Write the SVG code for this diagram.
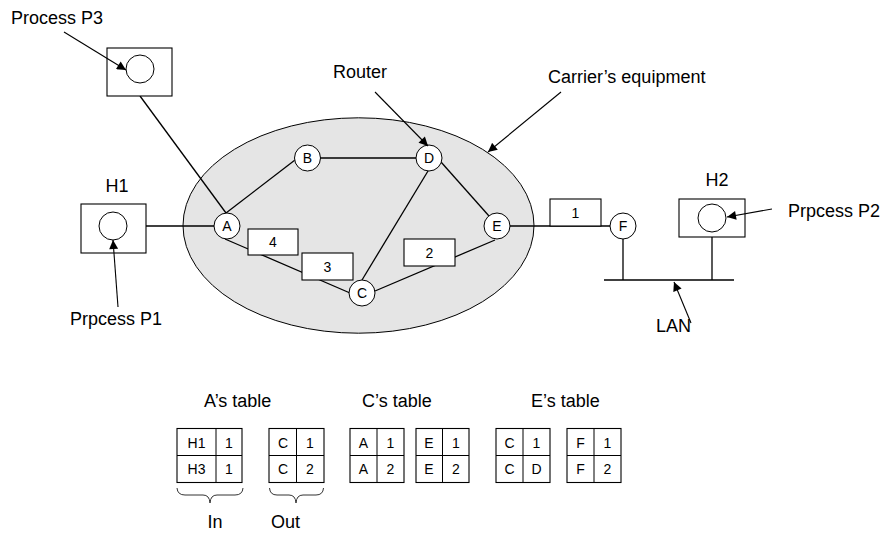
<svg xmlns="http://www.w3.org/2000/svg" width="887" height="536" viewBox="0 0 887 536">
<style>
text{font-family:"Liberation Sans",Arial,sans-serif;fill:#000}
.lbl{font-size:18px}
.sm{font-size:14px;text-anchor:middle}
.ln{stroke:#000;stroke-width:1.3;fill:none}
.tl{stroke:#000;stroke-width:1;fill:none}
.ar{stroke:#000;stroke-width:1.1;fill:none;marker-end:url(#ah)}
.nd{fill:#fff;stroke:#000;stroke-width:1}
.bx{fill:#fff;stroke:#000;stroke-width:1.1}
.br{stroke:#333;stroke-width:1;fill:none}
</style>
<defs>
<marker id="ah" viewBox="0 0 10 10" refX="10" refY="5" markerWidth="10" markerHeight="9" markerUnits="userSpaceOnUse" orient="auto">
<path d="M0,0 L10,5 L0,10 z" fill="#000"/>
</marker>
</defs>
<g id="carrier">
<ellipse cx="358.5" cy="225.5" rx="175.5" ry="107.7" fill="#e5e5e5" stroke="#000" stroke-width="1"/>
</g>
<g id="connectors">
<line class="ln" x1="140" y1="96" x2="226" y2="213"/>
<line class="ln" x1="146" y1="226" x2="214" y2="226"/>
<line class="ln" x1="226" y1="213" x2="295" y2="160"/>
<line class="ln" x1="320" y1="158" x2="416" y2="158"/>
<line class="ln" x1="441" y1="162" x2="489" y2="216"/>
<line class="ln" x1="428" y1="171" x2="362" y2="280"/>
<line class="ln" x1="225" y1="239" x2="350" y2="293"/>
<line class="ln" x1="375" y1="291" x2="495" y2="240"/>
<line class="ln" x1="510" y1="226" x2="610" y2="226"/>
<line class="ln" x1="623" y1="239" x2="623" y2="280"/>
<line class="ln" x1="712" y1="237" x2="712" y2="280"/>
<line class="ln" x1="604" y1="280" x2="734" y2="280"/>
</g>
<g id="P3"><rect class="bx" x="107" y="48" width="65" height="48"/><circle class="nd" cx="140" cy="69" r="14"/></g>
<g id="H1"><rect class="bx" x="81" y="204" width="65" height="49"/><circle class="nd" cx="113" cy="226" r="14"/><text class="lbl" x="117" y="192" text-anchor="middle">H1</text></g>
<g id="H2"><rect class="bx" x="679" y="199" width="66" height="38"/><circle class="nd" cx="712" cy="218" r="14"/><text class="lbl" x="717" y="186" text-anchor="middle">H2</text></g>
<g id="A"><circle class="nd" cx="227" cy="226" r="13"/><text class="sm" x="227" y="231">A</text></g>
<g id="B"><circle class="nd" cx="307.5" cy="158" r="13"/><text class="sm" x="307.5" y="163">B</text></g>
<g id="D"><circle class="nd" cx="429" cy="158" r="13"/><text class="sm" x="429" y="163">D</text></g>
<g id="E"><circle class="nd" cx="497" cy="226" r="13"/><text class="sm" x="497" y="231">E</text></g>
<g id="C"><circle class="nd" cx="362" cy="293" r="13"/><text class="sm" x="362" y="298">C</text></g>
<g id="F"><circle class="nd" cx="623" cy="226" r="13"/><text class="sm" x="623" y="231">F</text></g>
<g id="pkt4"><rect class="bx" x="248" y="229" width="50" height="26"/><text class="sm" x="273" y="247">4</text></g>
<g id="pkt3"><rect class="bx" x="302" y="253" width="51" height="27"/><text class="sm" x="327.5" y="271.5">3</text></g>
<g id="pkt2"><rect class="bx" x="404" y="239" width="51" height="27"/><text class="sm" x="429.5" y="257.5">2</text></g>
<g id="pkt1"><rect class="bx" x="550" y="199" width="51" height="27"/><text class="sm" x="575.5" y="217.5">1</text></g>
<g id="pointers">
<line class="ar" x1="64" y1="32" x2="126" y2="70"/>
<line class="ar" x1="375" y1="92" x2="428" y2="146"/>
<line class="ar" x1="561" y1="92" x2="488" y2="152"/>
<line class="ar" x1="772" y1="209" x2="727" y2="217"/>
<line class="ar" x1="118" y1="307" x2="113" y2="240"/>
<line class="ar" x1="691" y1="323" x2="674" y2="282"/>
</g>
<g id="labels">
<text class="lbl" x="11" y="24">Process P3</text>
<text class="lbl" x="333" y="78">Router</text>
<text class="lbl" x="548" y="83">Carrier’s equipment</text>
<text class="lbl" x="788" y="217">Prpcess P2</text>
<text class="lbl" x="70" y="325">Prpcess P1</text>
<text class="lbl" x="656" y="332">LAN</text>
<text class="lbl" x="204" y="407">A’s table</text>
<text class="lbl" x="362" y="407">C’s table</text>
<text class="lbl" x="531" y="407">E’s table</text>
<text class="lbl" x="207.5" y="528">In</text>
<text class="lbl" x="271" y="528">Out</text>
</g>
<g id="tableA">
<rect class="bx" x="177" y="428.5" width="65" height="54"/><line class="tl" x1="216" y1="428.5" x2="216" y2="482.5"/><line class="tl" x1="177" y1="455.5" x2="242" y2="455.5"/>
<text class="sm" x="196.5" y="448">H1</text><text class="sm" x="229" y="448">1</text><text class="sm" x="196.5" y="474">H3</text><text class="sm" x="229" y="474">1</text>
<rect class="bx" x="269" y="428.5" width="55" height="54"/><line class="tl" x1="296.5" y1="428.5" x2="296.5" y2="482.5"/><line class="tl" x1="269" y1="455.5" x2="324" y2="455.5"/>
<text class="sm" x="283" y="448">C</text><text class="sm" x="310" y="448">1</text><text class="sm" x="283" y="474">C</text><text class="sm" x="310" y="474">2</text>
<path class="br" d="M177,488 Q177.5,495 185,495 L203,495 Q209.5,495 210,503 Q210.5,495 217,495 L235,495 Q242.5,495 243,488"/>
<path class="br" d="M269.5,488 Q270,495 277,495 L289,495 Q295.5,495 296,503 Q296.5,495 303,495 L316,495 Q323,495 323.5,488"/>
</g>
<g id="tableC">
<rect class="bx" x="350" y="428.5" width="54" height="54"/><line class="tl" x1="377" y1="428.5" x2="377" y2="482.5"/><line class="tl" x1="350" y1="455.5" x2="404" y2="455.5"/>
<text class="sm" x="363.5" y="448">A</text><text class="sm" x="390.5" y="448">1</text><text class="sm" x="363.5" y="474">A</text><text class="sm" x="390.5" y="474">2</text>
<rect class="bx" x="416" y="428.5" width="53" height="54"/><line class="tl" x1="442.5" y1="428.5" x2="442.5" y2="482.5"/><line class="tl" x1="416" y1="455.5" x2="469" y2="455.5"/>
<text class="sm" x="429" y="448">E</text><text class="sm" x="456" y="448">1</text><text class="sm" x="429" y="474">E</text><text class="sm" x="456" y="474">2</text>
</g>
<g id="tableE">
<rect class="bx" x="496" y="428.5" width="54" height="54"/><line class="tl" x1="523" y1="428.5" x2="523" y2="482.5"/><line class="tl" x1="496" y1="455.5" x2="550" y2="455.5"/>
<text class="sm" x="509.5" y="448">C</text><text class="sm" x="536.5" y="448">1</text><text class="sm" x="509.5" y="474">C</text><text class="sm" x="536.5" y="474">D</text>
<rect class="bx" x="567" y="428.5" width="54" height="54"/><line class="tl" x1="594" y1="428.5" x2="594" y2="482.5"/><line class="tl" x1="567" y1="455.5" x2="621" y2="455.5"/>
<text class="sm" x="580.5" y="448">F</text><text class="sm" x="607.5" y="448">1</text><text class="sm" x="580.5" y="474">F</text><text class="sm" x="607.5" y="474">2</text>
</g>
</svg>
